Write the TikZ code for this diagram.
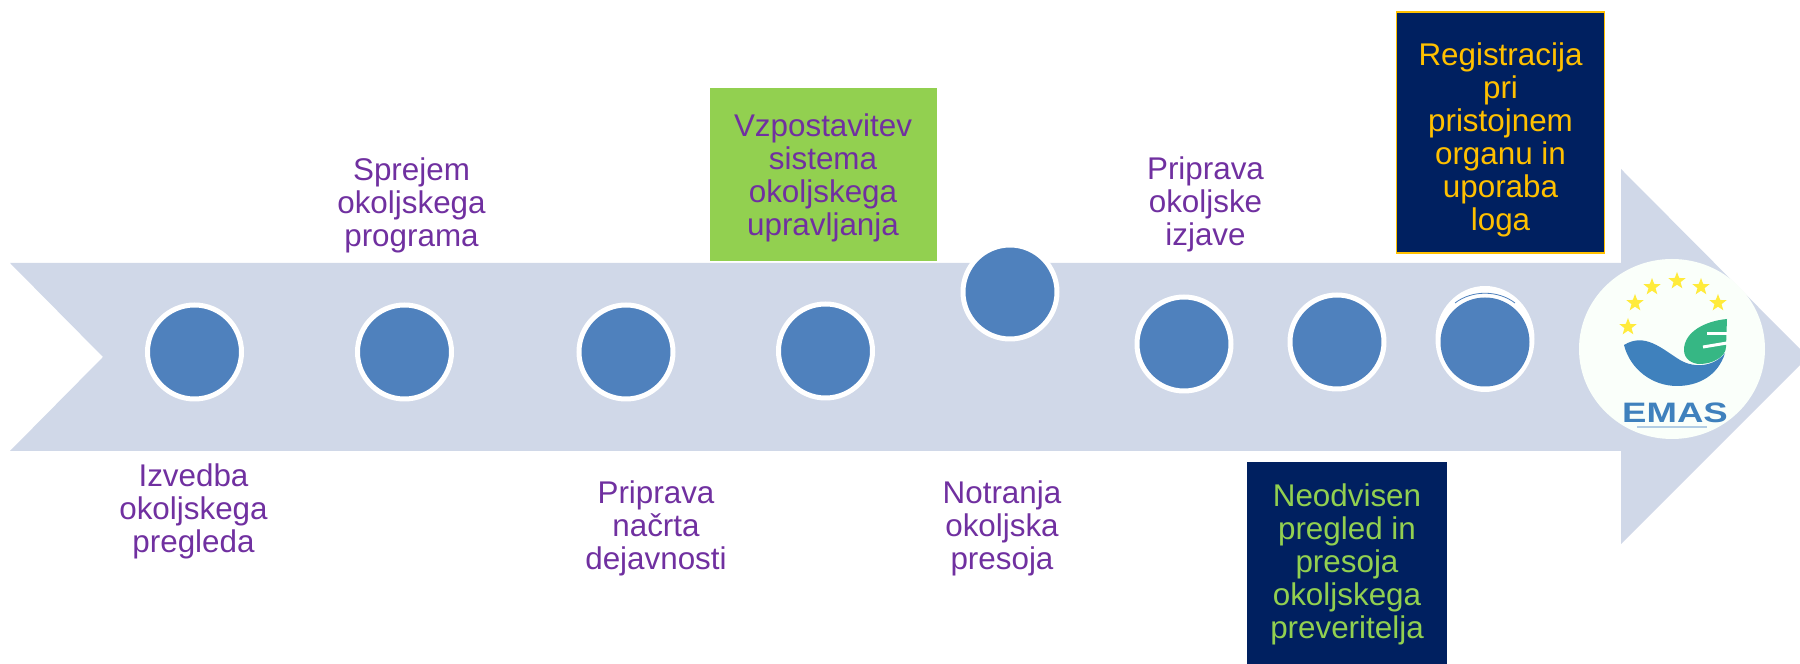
\documentclass[tikz,border=0pt]{standalone}
\usepackage{fontspec}
\setmainfont{Liberation Sans}
\usetikzlibrary{shapes.geometric}
\definecolor{shaftblue}{HTML}{D0D8E8}
\definecolor{dotblue}{HTML}{4F81BD}
\definecolor{steppurple}{HTML}{7030A0}
\definecolor{stepgreen}{HTML}{92D050}
\definecolor{stepnavy}{HTML}{002060}
\definecolor{stepgold}{HTML}{FFC000}
\definecolor{logoblue}{HTML}{3F81BD}
\definecolor{logogreen}{HTML}{36B784}
\definecolor{logostar}{HTML}{FFEB3B}
\tikzset{
  dot/.style={circle,fill=dotblue,draw=white,line width=.05cm,inner sep=0pt,minimum size=.94cm},
  steptext/.style={align=center,inner sep=0pt,text=steppurple,font=\fontsize{8.93}{9.39}\selectfont},
  stepbox/.style={rectangle,fill=stepnavy,inner sep=0pt,minimum width=2cm},
  logostarshape/.style={star,star points=5,star point ratio=2.4,fill=logostar,inner sep=0pt,minimum size=.18cm}
}
\begin{document}
\begin{tikzpicture}
\useasboundingbox (0,0) rectangle (18,6.64);
% arrow
\fill[shaftblue] (.1,4.01) -- (16.21,4.01) -- (16.21,4.95) -- (18,3.15) -- (18,2.99) -- (16.21,1.2) -- (16.21,2.13) -- (.1,2.13) -- (1.03,3.07) -- cycle;

% logo
\node[ellipse,fill=white!98!green,inner sep=0pt,minimum width=1.86cm,minimum height=1.8cm] (logo) at (16.72,3.15) {};
\foreach \n/\x/\y in {a/16.28/3.37,b/16.35/3.61,c/16.52/3.77,d/16.77/3.83,e/17.01/3.77,f/17.18/3.61}
  \node[logostarshape] (star\n) at (\x,\y) {};
\fill[logoblue] (16.24,3.19) .. controls (16.45,3.32) and (16.62,3.15) .. (16.80,3.04) .. controls (16.95,2.95) and (17.15,2.98) .. (17.25,3.11) .. controls (17.18,2.88) and (16.98,2.78) .. (16.77,2.78) .. controls (16.52,2.78) and (16.30,2.95) .. (16.24,3.19) -- cycle;
\fill[logogreen] (17.27,3.45) .. controls (17.05,3.43) and (16.84,3.32) .. (16.84,3.14) .. controls (16.84,3.05) and (16.92,3) .. (17,3) .. controls (17.12,3) and (17.26,3.07) .. (17.26,3.17) -- cycle;
\draw[white,line width=.03cm] (17.03,3.17) -- (17.27,3.21);
\draw[white,line width=.03cm] (17.07,3.3) -- (17.28,3.3);
\node[inner sep=0pt,text=logoblue,xscale=1.3,font=\fontsize{8}{9}\selectfont\bfseries] (emas) at (16.75,2.51) {EMAS};
\draw[logoblue!40,line width=.012cm] (16.37,2.37) -- (17.07,2.37);

% dots
\node[dot] (dota) at (1.945,3.12) {};
\node[dot] (dotb) at (4.045,3.12) {};
\node[dot] (dotc) at (6.26,3.12) {};
\node[dot] (dotd) at (8.255,3.13) {};
\node[dot] (dote) at (10.1,3.72) {};
\node[dot] (dotf) at (11.84,3.2) {};
\node[dot] (dotg) at (13.37,3.22) {};
\node[ellipse,fill=white,inner sep=0pt,minimum width=.99cm,minimum height=1.06cm] (doth) at (14.85,3.25) {};
\draw[dotblue,line width=.008cm] (14.55,3.61) .. controls (14.72,3.74) and (14.98,3.74) .. (15.15,3.61);
\node[circle,fill=dotblue,inner sep=0pt,minimum size=.89cm] (dothin) at (14.85,3.22) {};

% labels
\node[steptext] (izvedba) at (1.935,1.53) {Izvedba\\okoljskega\\pregleda};
\node[steptext] (sprejem) at (4.115,4.59) {Sprejem\\okoljskega\\programa};
\node[steptext] (nacrt) at (6.56,1.355) {Priprava\\načrta\\dejavnosti};
\node[steptext] (notranja) at (10.02,1.355) {Notranja\\okoljska\\presoja};
\node[steptext] (izjava) at (12.055,4.595) {Priprava\\okoljske\\izjave};

% boxes
\node[stepbox,fill=stepgreen,minimum width=2.275cm,minimum height=1.726cm] (vzpostavitevbox) at (8.235,4.897) {};
\node[steptext] (vzpostavitev) at (8.23,4.86) {Vzpostavitev\\sistema\\okoljskega\\upravljanja};
\node[stepbox,minimum height=2.02cm] (neodvisenbox) at (13.47,1.01) {};
\node[steptext,text=stepgreen] (neodvisen) at (13.47,1) {Neodvisen\\pregled in\\presoja\\okoljskega\\preveritelja};
\node[stepbox,draw=stepgold,line width=.015cm,minimum width=2.08cm,minimum height=2.41cm] (registracijabox) at (15.005,5.315) {};
\node[steptext,text=stepgold] (registracija) at (15.005,5.245) {Registracija\\pri\\pristojnem\\organu in\\uporaba\\loga};
\end{tikzpicture}
\end{document}
